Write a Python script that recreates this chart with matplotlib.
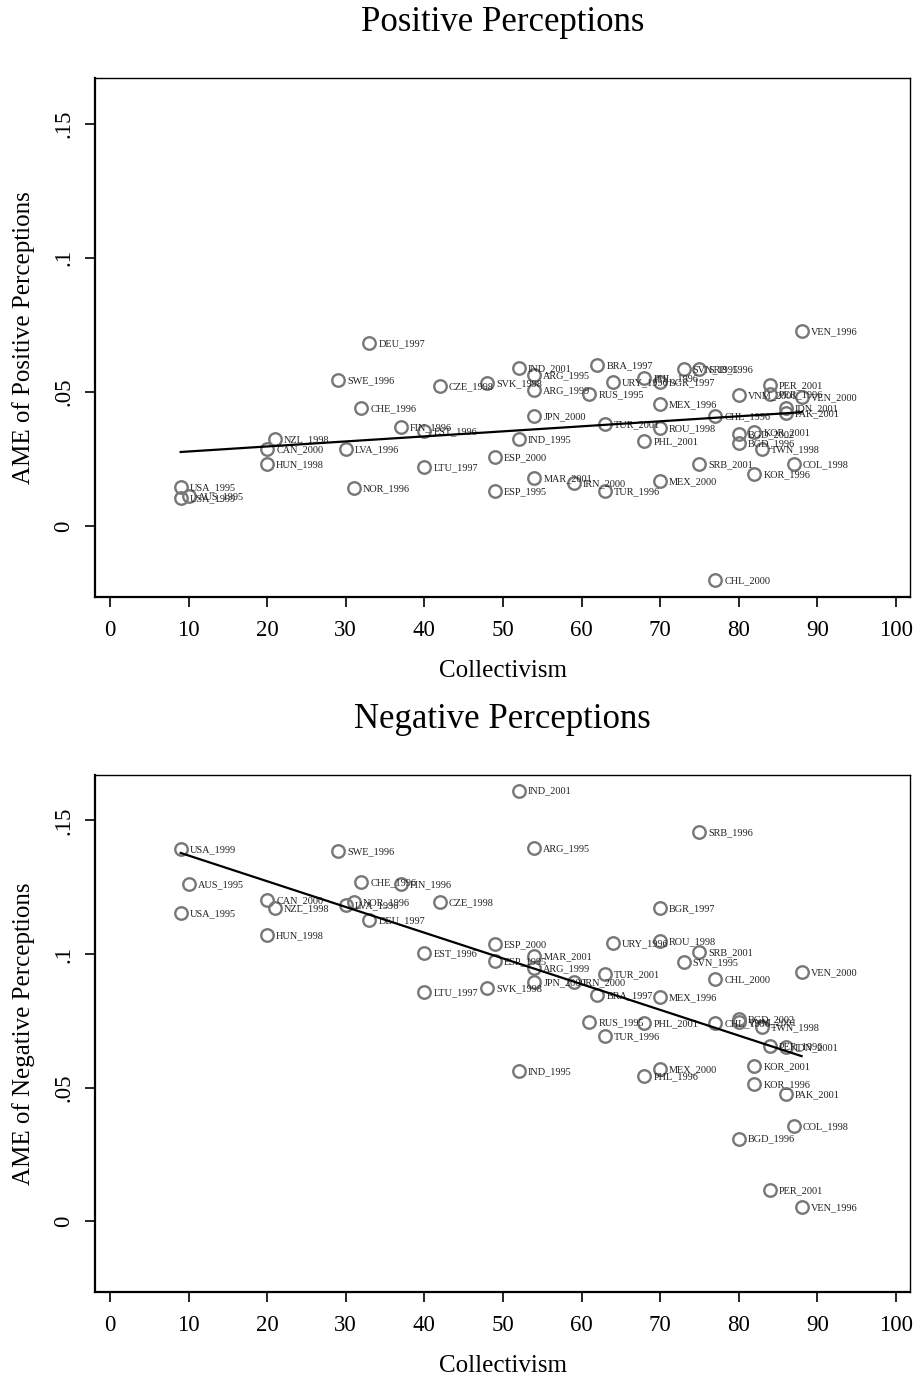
import numpy as np
import matplotlib.pyplot as plt

plt.rcParams['font.family'] = ['Liberation Serif', 'DejaVu Serif']

labels = ['USA_1995', 'USA_1999', 'AUS_1995', 'CAN_2000', 'HUN_1998', 'NZL_1998',
          'SWE_1996', 'LVA_1996', 'NOR_1996', 'CHE_1996', 'DEU_1997', 'FIN_1996',
          'EST_1996', 'LTU_1997', 'CZE_1998', 'SVK_1998', 'ESP_1995', 'ESP_2000',
          'IND_1995', 'IND_2001', 'ARG_1995', 'ARG_1999', 'JPN_2000', 'MAR_2001',
          'IRN_2000', 'RUS_1995', 'BRA_1997', 'TUR_1996', 'TUR_2001', 'URY_1996',
          'PHL_1996', 'PHL_2001', 'BGR_1997', 'MEX_1996', 'MEX_2000', 'ROU_1998',
          'SVN_1995', 'SRB_1996', 'SRB_2001', 'CHL_1996', 'CHL_2000', 'BGD_1996',
          'BGD_2002', 'VNM_2001', 'KOR_1996', 'KOR_2001', 'TWN_1998', 'PER_1996',
          'PER_2001', 'IDN_2001', 'PAK_2001', 'COL_1998', 'VEN_1996', 'VEN_2000']

collectivism = [9, 9, 10, 20, 20, 21,
                29, 30, 31, 32, 33, 37,
                40, 40, 42, 48, 49, 49,
                52, 52, 54, 54, 54, 54,
                59, 61, 62, 63, 63, 64,
                68, 68, 70, 70, 70, 70,
                73, 75, 75, 77, 77, 80,
                80, 80, 82, 82, 83, 84,
                84, 86, 86, 87, 88, 88]

ame_positive = [0.0146, 0.0104, 0.0112, 0.0287, 0.0231, 0.0325,
                0.0545, 0.0287, 0.0142, 0.0440, 0.0683, 0.0370,
                0.0354, 0.0220, 0.0522, 0.0534, 0.0130, 0.0257,
                0.0325, 0.0590, 0.0564, 0.0507, 0.0410, 0.0179,
                0.0160, 0.0493, 0.0601, 0.0130, 0.0380, 0.0537,
                0.0552, 0.0317, 0.0537, 0.0455, 0.0168, 0.0366,
                0.0586, 0.0586, 0.0231, 0.0410, -0.0201, 0.0310,
                0.0343, 0.0489, 0.0194, 0.0350, 0.0287, 0.0493,
                0.0526, 0.0440, 0.0422, 0.0231, 0.0728, 0.0481]

ame_negative = [0.1153, 0.1392, 0.1261, 0.1201, 0.1071, 0.1172,
                0.1384, 0.1183, 0.1194, 0.1269, 0.1127, 0.1261,
                0.1004, 0.0858, 0.1194, 0.0873, 0.0974, 0.1037,
                0.0563, 0.1612, 0.1396, 0.0948, 0.0896, 0.0993,
                0.0896, 0.0746, 0.0847, 0.0694, 0.0925, 0.1041,
                0.0545, 0.0743, 0.1172, 0.0840, 0.0571, 0.1049,
                0.0970, 0.1455, 0.1007, 0.0743, 0.0907, 0.0310,
                0.0757, 0.0746, 0.0515, 0.0582, 0.0728, 0.0657,
                0.0116, 0.0653, 0.0478, 0.0358, 0.0052, 0.0933]

x_ticks = [0, 10, 20, 30, 40, 50, 60, 70, 80, 90, 100]
y_ticks = [0, 0.05, 0.1, 0.15]
y_ticklabels = ['0', '.05', '.1', '.15']

fig = plt.figure(figsize=(9.17, 13.8), dpi=100)
ax_pos = fig.add_axes([0.1036, 0.5674, 0.8888, 0.3761])
ax_neg = fig.add_axes([0.1036, 0.0638, 0.8888, 0.3746])


def draw_panel(ax, y, title, ylabel):
    x = np.array(collectivism, dtype=float)
    y = np.array(y, dtype=float)
    ax.plot(x, y, 'o', ms=9, mfc='none', mec='#777777', mew=1.7, zorder=2)
    for lab, xi, yi in zip(labels, x, y):
        ax.annotate(lab, (xi, yi), xytext=(6.5, -0.5), textcoords='offset points',
                    fontsize=7.4, va='center', ha='left', color='#222222', zorder=3)
    # linear fit drawn over the observed range
    b, a = np.polyfit(x, y, 1)
    xs = np.array([x.min(), x.max()])
    ax.plot(xs, a + b * xs, color='black', lw=1.6, zorder=4)

    ax.set_xlim(-1.9, 101.8)
    ax.set_ylim(-0.0264, 0.167)
    ax.set_xticks(x_ticks)
    ax.set_yticks(y_ticks)
    ax.set_yticklabels(y_ticklabels, rotation=90, va='center')
    ax.tick_params(direction='out', length=7, width=1.2, labelsize=16.5, pad=8)
    ax.tick_params(axis='x', pad=9.5)
    for side in ['left', 'bottom']:
        ax.spines[side].set_linewidth(1.6)
    for side in ['top', 'right']:
        ax.spines[side].set_linewidth(1.0)
    ax.set_title(title, fontsize=25, pad=34)
    ax.set_xlabel('Collectivism', fontsize=18, labelpad=14)
    ax.set_ylabel(ylabel, fontsize=18, labelpad=13)


draw_panel(ax_pos, ame_positive, 'Positive Perceptions', 'AME of Positive Perceptions')
draw_panel(ax_neg, ame_negative, 'Negative Perceptions', 'AME of Negative Perceptions')

fig.savefig('out.png', dpi=100)
